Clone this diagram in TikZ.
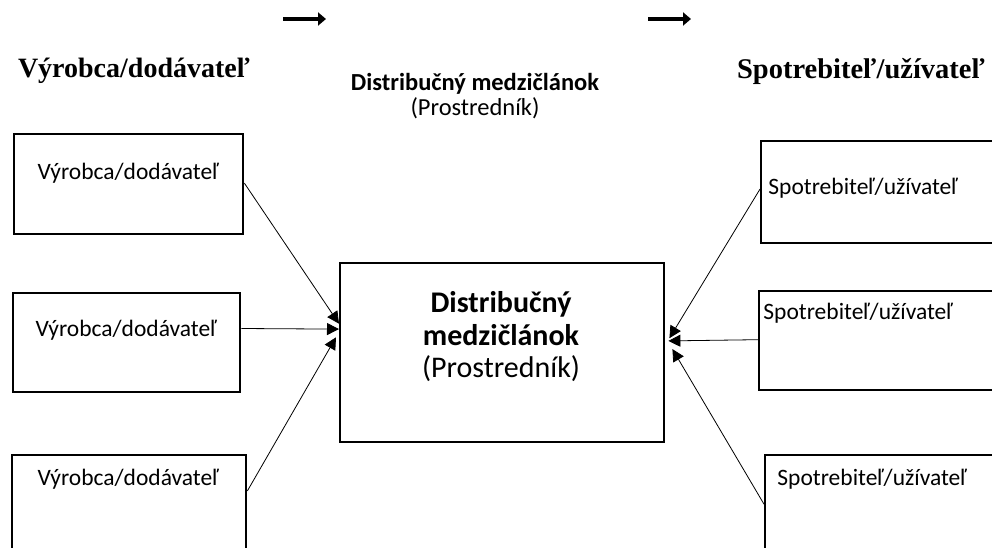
\documentclass[tikz,border=0pt]{standalone}
\usepackage{fontspec}
\setmainfont{Liberation Serif}
\newfontfamily\carlito{Carlito}
\usetikzlibrary{arrows.meta,calc}
\begin{document}
\begin{tikzpicture}[x=1pt,y=-1pt,
  box/.style={draw,line width=2.4pt,rectangle,anchor=north west,inner sep=0pt},
  boxtext/.style={font=\carlito\fontsize{23.5}{27}\selectfont,anchor=center,inner sep=0pt},
  conn/.style={line width=0.8pt,-{Triangle[length=12pt,width=12pt]}},
  bigarrow/.style={line width=4.5pt,-{Triangle[length=8pt,width=13pt]}},
  header/.style={font=\bfseries\fontsize{28}{32}\selectfont,inner sep=0pt}]
\useasboundingbox (0,0) rectangle (992,548);
\clip (0,0) rectangle (992,548);
% top arrows
\coordinate (a1s) at (283,19);
\coordinate (a1e) at (326,19);
\coordinate (a2s) at (648,19);
\coordinate (a2e) at (691,19);
\draw[bigarrow] (a1s) -- (a1e);
\draw[bigarrow] (a2s) -- (a2e);
% headers
\node[header] (hv) at (134,71) {Výrobca/dodávateľ};
\node[header,font=\bfseries\fontsize{28.5}{32}\selectfont] (hs) at (861,71) {Spotrebiteľ/užívateľ};
\node[font=\carlito\bfseries\fontsize{24.5}{28}\selectfont,inner sep=0pt] (hd) at (475,84) {Distribučný medzičlánok};
\node[font=\carlito\fontsize{24.5}{28}\selectfont,inner sep=0pt] (hp) at (475,108) {(Prostredník)};
% left boxes
\node[box,minimum width=229pt,minimum height=100pt] (l1) at (13,133) {};
\node[box,minimum width=227pt,minimum height=99pt] (l2) at (12,292) {};
\node[box,minimum width=234pt,minimum height=100pt] (l3) at (11,454) {};
\node[boxtext] (t1) at (128,173) {Výrobca/dodávateľ};
\node[boxtext] (t2) at (126,330) {Výrobca/dodávateľ};
\node[boxtext] (t3) at (128,479) {Výrobca/dodávateľ};
% centre box
\node[box,minimum width=324pt,minimum height=179pt] (c) at (339,262) {};
\node[font=\carlito\bfseries\fontsize{30}{35}\selectfont,align=center,inner sep=0pt] (ct) at (501,319) {Distribučný\\[-2pt]medzičlánok};
\node[font=\carlito\fontsize{30}{35}\selectfont,inner sep=0pt] (cp) at (501,369) {(Prostredník)};
% right boxes
\node[box,minimum width=260pt,minimum height=102pt] (r1) at (760,140) {};
\node[box,minimum width=260pt,minimum height=99pt] (r2) at (758,290) {};
\node[box,minimum width=260pt,minimum height=100pt] (r3) at (764,454) {};
\node[boxtext] (s1) at (863,188) {Spotrebiteľ/užívateľ};
\node[boxtext] (s2) at (858,313) {Spotrebiteľ/užívateľ};
\node[boxtext] (s3) at (872,479) {Spotrebiteľ/užívateľ};
% connectors
\draw[conn] ($(l1.north east)!0.49!(l1.south east)$) -- ($(c.north west)!0.34!(c.south west)$);
\draw[conn] ($(l2.north east)!0.36!(l2.south east)$) -- ($(c.north west)!0.37!(c.south west)$);
\draw[conn] ($(l3.north east)!0.36!(l3.south east)$) -- ($(c.north west)!0.415!(c.south west)+(-3,0)$);
\draw[conn] ($(r1.north west)!0.47!(r1.south west)$) -- ($(c.north east)!0.42!(c.south east)+(4,0)$);
\draw[conn] ($(r2.north west)!0.49!(r2.south west)$) -- ($(c.north east)!0.435!(c.south east)+(3,0)$);
\draw[conn] ($(r3.north west)!0.49!(r3.south west)$) -- ($(c.north east)!0.48!(c.south east)+(7,0)$);
\end{tikzpicture}
\end{document}
